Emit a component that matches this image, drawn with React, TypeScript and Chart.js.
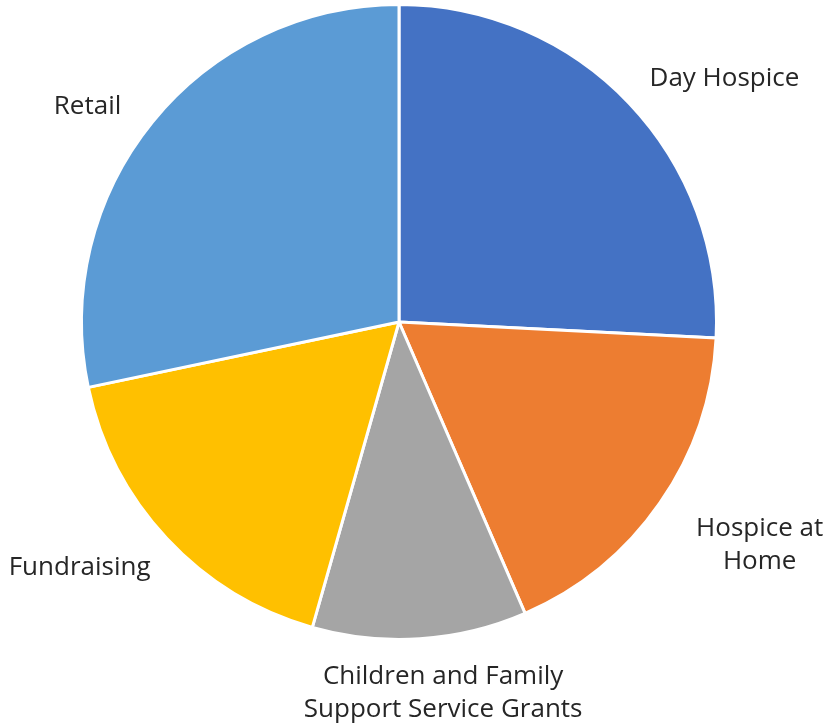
import React, { useEffect, useRef } from "react";
import { Chart, registerables } from "chart.js";

Chart.register(...registerables);

const categories: string[][] = [
  ["Day Hospice"],
  ["Hospice at", "Home"],
  ["Children and Family", "Support Service Grants"],
  ["Fundraising"],
  ["Retail"],
];
const values: number[] = [25.8, 17.7, 10.9, 17.3, 28.3];
const colors: string[] = ["#4472C4", "#ED7D31", "#A5A5A5", "#FFC000", "#5B9BD5"];

// label anchor positions, expressed relative to the pie centre in units of the radius
const labelOffsets: [number, number][] = [
  [1.025, -0.768],
  [1.136, 0.703],
  [0.139, 1.17],
  [-1.006, 0.775],
  [-0.981, -0.68],
];

const outsideLabels = {
  id: "outsideLabels",
  afterDatasetsDraw(chart: any) {
    const meta = chart.getDatasetMeta(0);
    const arc = meta.data[0];
    if (!arc) return;
    const { x, y, outerRadius } = arc.getProps(["x", "y", "outerRadius"], true);
    const ctx = chart.ctx;
    ctx.save();
    ctx.font = "26px 'Open Sans'";
    ctx.fillStyle = "#262626";
    ctx.textAlign = "center";
    ctx.textBaseline = "middle";
    const lh = 33;
    categories.forEach((lines, i) => {
      const [ox, oy] = labelOffsets[i];
      const cx = x + ox * outerRadius;
      const cy = y + oy * outerRadius;
      const start = cy - ((lines.length - 1) * lh) / 2;
      lines.forEach((t, j) => ctx.fillText(t, cx, start + j * lh));
    });
    ctx.restore();
  },
};

export default function App() {
  const ref = useRef<HTMLCanvasElement>(null);
  useEffect(() => {
    if (!ref.current) return;
    const chart = new Chart(ref.current, {
      type: "pie",
      data: {
        labels: categories.map((c) => c.join(" ")),
        datasets: [
          {
            data: values,
            backgroundColor: colors,
            borderColor: "#ffffff",
            borderWidth: 3,
          },
        ],
      },
      options: {
        animation: false,
        responsive: false,
        layout: { padding: { left: 80, right: 108, top: 3, bottom: 85 } },
        plugins: { legend: { display: false }, tooltip: { enabled: false } },
      },
      plugins: [outsideLabels],
    });
    return () => chart.destroy();
  }, []);
  return (
    <div style={{ position: "fixed", left: 0, top: 0, width: 826, height: 726, background: "#fff" }}>
      <canvas ref={ref} width={826} height={726} style={{ width: 826, height: 726 }} />
    </div>
  );
}
